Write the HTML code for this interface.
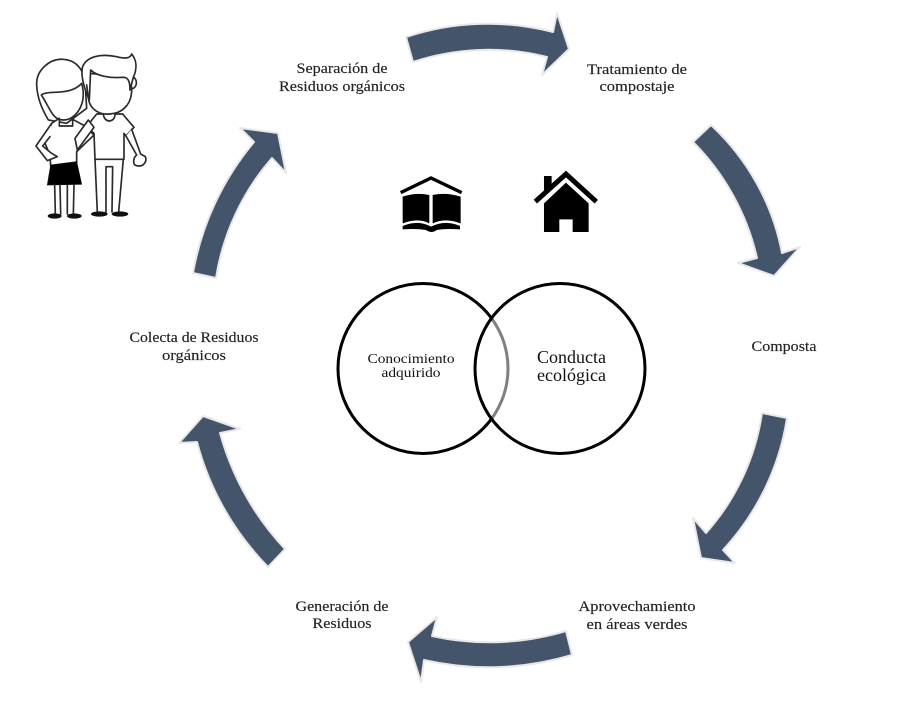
<!DOCTYPE html>
<html lang="es"><head><meta charset="utf-8"><title>Ciclo de compostaje</title>
<style>html,body{margin:0;padding:0;background:#fff}svg{display:block}
.a{fill:#44546a;stroke:#e8e8e8;stroke-width:2;stroke-linejoin:round}
.l{font-family:"Liberation Serif",serif;font-size:14.5px;fill:#222;text-anchor:middle;stroke:#222;stroke-width:.15}
.c{font-family:"Liberation Serif",serif;fill:#111;text-anchor:middle}
.p{fill:#fff;stroke:#2a2a2a;stroke-width:5;stroke-linejoin:round;stroke-linecap:round}
</style></head><body>
<svg width="914" height="713" viewBox="0 0 914 713" xmlns="http://www.w3.org/2000/svg">
<rect width="914" height="713" fill="#fff"/>
<!-- arrows -->
<path class="a" d="M406,37A260,260 0 0 1 553,32L557,13L569,49L542,75L547,57A240,240 0 0 0 413,62Z"/>
<path class="a" d="M693,142L711,125A235,235 0 0 1 782,253L800,247L774,276L738,263L757,258A240,240 0 0 0 693,142Z"/>
<path class="a" d="M762,413L787,418A250,250 0 0 1 723,550L735,563L701,558L693,518L706,533A230,230 0 0 0 762,413Z"/>
<path class="a" d="M566,631L572,655A290,290 0 0 1 424,660L421,682L408,642L437,617L432,636A265,265 0 0 0 566,631Z"/>
<path class="a" d="M285,549L268,567A280,280 0 0 1 197,442L179,443L203,416L240,429L220,433A280,280 0 0 0 285,549Z"/>
<path class="a" d="M193,273A280,280 0 0 1 254,142L240,128L278,133L286,173L272,158A240,240 0 0 0 216,278Z"/>
<!-- labels -->
<text class="l" x="342" y="73" textLength="91" lengthAdjust="spacingAndGlyphs">Separación de</text>
<text class="l" x="342" y="91" textLength="126" lengthAdjust="spacingAndGlyphs">Residuos orgánicos</text>
<text class="l" x="637" y="74" textLength="100" lengthAdjust="spacingAndGlyphs">Tratamiento de</text>
<text class="l" x="637" y="91" textLength="75" lengthAdjust="spacingAndGlyphs">compostaje</text>
<text class="l" x="784" y="351" textLength="65" lengthAdjust="spacingAndGlyphs">Composta</text>
<text class="l" x="637" y="611" textLength="117" lengthAdjust="spacingAndGlyphs">Aprovechamiento</text>
<text class="l" x="637" y="629" textLength="101" lengthAdjust="spacingAndGlyphs">en áreas verdes</text>
<text class="l" x="342" y="611" textLength="93" lengthAdjust="spacingAndGlyphs">Generación de</text>
<text class="l" x="342" y="628" textLength="59" lengthAdjust="spacingAndGlyphs">Residuos</text>
<text class="l" x="194" y="342" textLength="129" lengthAdjust="spacingAndGlyphs">Colecta de Residuos</text>
<text class="l" x="194" y="360" textLength="64" lengthAdjust="spacingAndGlyphs">orgánicos</text>
<!-- venn -->
<circle cx="423" cy="368.500" r="85" fill="none" stroke="#000" stroke-width="3"/>
<circle cx="560" cy="368.500" r="85" fill="#fff" fill-opacity=".5" stroke="#000" stroke-width="3"/>
<text class="c" x="411" y="363" font-size="14" textLength="87" lengthAdjust="spacingAndGlyphs">Conocimiento</text>
<text class="c" x="411" y="377" font-size="14" textLength="59" lengthAdjust="spacingAndGlyphs">adquirido</text>
<text class="c" x="571.500" y="363" font-size="17.500" textLength="69" lengthAdjust="spacingAndGlyphs">Conducta</text>
<text class="c" x="571.500" y="381" font-size="17.500" textLength="69" lengthAdjust="spacingAndGlyphs">ecológica</text>
<!-- book -->
<g transform="translate(390,160) scale(.3333)" fill="#000">
<path d="M32,98L123,54L215,98" fill="none" stroke="#000" stroke-width="10"/>
<path d="M38,110Q78,96 118,105L118,190Q85,172 38,190Z"/>
<path d="M128,105Q170,96 212,110L212,190Q165,172 128,190Z"/>
<path d="M38,198Q85,178 123,200Q165,178 210,198L210,208Q165,205 140,210Q125,222 108,210Q80,205 38,208Z"/>
</g>
<!-- house -->
<g transform="translate(390,160) scale(.3333)" fill="#000">
<rect x="462" y="48" width="23" height="42"/>
<path d="M436,125L528,42L619,125" fill="none" stroke="#000" stroke-width="15"/>
<path d="M528,68L596,130V216H548V178H508V216H462V130Z"/>
</g>
<!-- couple -->
<g transform="translate(20,40) scale(.3333)">
<path class="p" d="M85,240C65,205 52,175 50,135C48,90 90,55 130,58C165,60 190,85 195,125L200,205L140,250Z"/>
<path class="p" d="M64,165C85,148 150,170 185,130C195,165 190,200 165,225C145,245 115,245 100,225C88,210 78,185 64,165Z"/>
<path class="p" d="M118,235L118,258L158,258L158,238L195,258L222,285L170,335L170,368L92,378L90,345L75,310L95,250Z"/>
<path class="p" d="M95,250L48,318L82,362L112,350L92,338L68,318L90,290"/>
<path d="M92,375L170,365L185,433L82,435Z" fill="#000" stroke="#111" stroke-width="2"/>
<path class="p" d="M104,435L106,522M120,435L122,522M142,435L142,522M162,435L160,522" fill="none"/>
<ellipse cx="104" cy="528" rx="21" ry="8" fill="#111"/><ellipse cx="163" cy="528" rx="22" ry="8" fill="#111"/>
<path class="p" d="M225,358L232,516M310,358L296,516M258,380L258,516M278,380L276,516M258,380H278" fill="none"/>
<ellipse cx="238" cy="522" rx="25" ry="8" fill="#111"/><ellipse cx="300" cy="522" rx="25" ry="8" fill="#111"/>
<path class="p" d="M230,222L250,222C252,250 285,250 285,222L308,222L342,262L318,288L312,280L312,358H225L222,280L200,260Z"/>
<path class="p" d="M318,288L350,345C338,355 338,375 350,377C370,382 382,365 376,350L362,342L335,268"/>
<path class="p" d="M205,240L222,262L172,330L165,295Z"/>
<path class="p" d="M205,115L205,175C210,210 240,225 270,222C305,220 335,195 335,150L335,112L205,100Z"/>
<path class="p" d="M335,110C352,112 355,140 337,146"/>
<path class="p" d="M208,180C195,150 180,110 188,80C200,50 240,40 290,50C310,55 330,58 335,42C350,60 352,85 340,112L330,150C330,125 325,112 310,112C270,115 230,108 212,90Z"/>
<path class="p" d="M205,170L200,135" fill="none"/>
</g>
</svg>
</body></html>
